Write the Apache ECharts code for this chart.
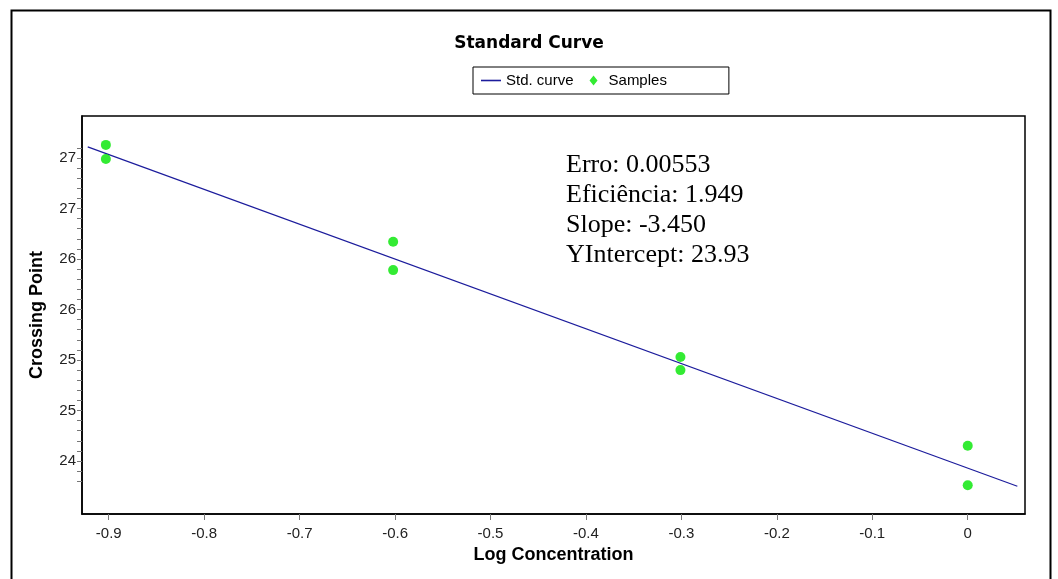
<!DOCTYPE html>
<html>
<head>
<meta charset="UTF-8">
<title>Standard Curve</title>
<script src="https://cdn.jsdelivr.net/npm/echarts@6/dist/echarts.min.js"></script>
<style>
  html, body { margin: 0; padding: 0; background: #fff; }
  #main { width: 1058px; height: 579px; }
</style>
</head>
<body>
<div id="main"></div>
<script type="text/javascript">
// sample points (log concentration, crossing point)
var sampleX = [-0.903, -0.903, -0.602, -0.602, -0.301, -0.301, 0, 0];
var sampleY = [27.13, 26.99, 26.17, 25.89, 25.03, 24.90, 24.15, 23.76];
// fitted standard curve, read at its two ends
var curveX = [-0.922, 0.052];
var curveY = [27.11, 23.75];
// tick labels
var xTicks = [-0.9, -0.8, -0.7, -0.6, -0.5, -0.4, -0.3, -0.2, -0.1, 0];
var yTicks = [24, 24.5, 25, 25.5, 26, 26.5, 27];
var yMinorTicks = [23.8, 23.9, 24, 24.1, 24.2, 24.3, 24.4, 24.5, 24.6, 24.7, 24.8, 24.9,
  25, 25.1, 25.2, 25.3, 25.4, 25.5, 25.6, 25.7, 25.8, 25.9, 26, 26.1, 26.2, 26.3, 26.4, 26.5,
  26.6, 26.7, 26.8, 26.9, 27, 27.1];
var statsText = ['Erro: 0.00553', 'Eficiência: 1.949', 'Slope: -3.450', 'YIntercept: 23.93'];

var myChart = echarts.init(document.getElementById('main'));

var curveData = curveX.map(function (x, i) { return [x, curveY[i]]; });
var sampleData = sampleX.map(function (x, i) { return [x, sampleY[i]]; });

var sans = '"Liberation Sans", Arial, sans-serif';

var option = {
  backgroundColor: '#fff',
  animation: false,
  title: {
    text: 'Standard Curve',
    left: 'center',
    top: 30,
    textStyle: { fontFamily: '"DejaVu Sans"', fontWeight: 'bold', fontSize: 17, color: '#000' }
  },
  legend: {
    top: 67,
    left: 473,
    itemGap: 10,
    itemWidth: 20,
    itemHeight: 10,
    padding: [6, 62, 6, 8],
    borderColor: '#000',
    borderWidth: 1,
    textStyle: { fontFamily: sans, fontSize: 15, color: '#000' },
    data: [
      { name: 'Std. curve', icon: 'path://M0,4.2 L20,4.2 L20,5.8 L0,5.8 Z' },
      // diamond kept narrow inside a 20x10 box
      { name: 'Samples', icon: 'path://M0,5 L0.01,5 Z M6,5 L10,0 L14,5 L10,10 Z M19.99,5 L20,5 Z' }
    ]
  },
  grid: {
    left: 82,
    top: 116,
    right: 33,
    bottom: 65,
    show: true,
    borderColor: '#000',
    borderWidth: 1.5
  },
  xAxis: {
    type: 'value',
    min: -0.928,
    max: 0.06,
    name: 'Log Concentration',
    nameLocation: 'middle',
    nameGap: 31,
    nameTextStyle: { fontFamily: sans, fontWeight: 'bold', fontSize: 18, color: '#000' },
    axisLine: { onZero: false, lineStyle: { color: '#000', width: 1.5 } },
    axisTick: { length: 6, customValues: xTicks, lineStyle: { color: '#777' } },
    axisLabel: {
      customValues: xTicks,
      margin: 12,
      formatter: function (v) { return v === 0 ? '0' : String(Math.round(v * 10) / 10); },
      color: '#222', fontFamily: sans, fontSize: 15
    },
    splitLine: { show: false }
  },
  yAxis: {
    type: 'value',
    min: 23.475,
    max: 27.416,
    name: 'Crossing Point',
    nameLocation: 'middle',
    nameGap: 36,
    nameRotate: 90,
    nameTextStyle: { fontFamily: sans, fontWeight: 'bold', fontSize: 18, color: '#000' },
    axisLine: { onZero: false, lineStyle: { color: '#000', width: 1.5 } },
    axisTick: { length: 5, customValues: yMinorTicks, lineStyle: { color: '#777' } },
    axisLabel: {
      customValues: yTicks,
      margin: 6,
      formatter: function (v) { return String(Math.round(v)); },
      color: '#222', fontFamily: sans, fontSize: 15
    },
    splitLine: { show: false }
  },
  graphic: [
    {
      type: 'rect',
      left: 9,
      top: 8,
      shape: { width: 1039, height: 600 },
      style: { fill: 'none', stroke: '#000', lineWidth: 2 },
      silent: true
    },
    {
      type: 'text',
      left: 566,
      top: 150,
      style: {
        text: statsText.join('\n'),
        font: '26px "Liberation Serif", "Times New Roman", serif',
        lineHeight: 30,
        fill: '#000'
      }
    }
  ],
  series: [
    {
      name: 'Std. curve',
      type: 'line',
      data: curveData,
      symbol: 'none',
      lineStyle: { color: '#1c1c9c', width: 1.2 },
      itemStyle: { color: '#1c1c9c' },
      z: 2
    },
    {
      name: 'Samples',
      type: 'scatter',
      data: sampleData,
      symbol: 'circle',
      symbolSize: 10,
      itemStyle: { color: '#00e600' },
      z: 3
    }
  ]
};

myChart.setOption(option);
</script>
</body>
</html>
